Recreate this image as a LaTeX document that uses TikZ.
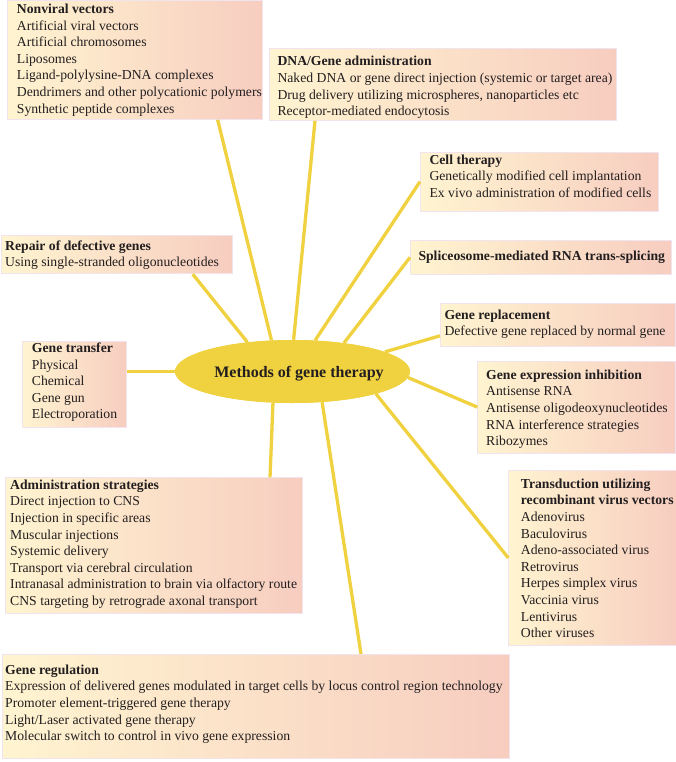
\documentclass[tikz,border=0pt]{standalone}
\usepackage{fontspec}
\setmainfont{Liberation Serif}
\usetikzlibrary{shapes.geometric,calc}
\definecolor{cream}{RGB}{255,244,208}
\definecolor{rose}{RGB}{247,205,192}
\definecolor{gold}{RGB}{240,209,64}
\definecolor{ink}{RGB}{35,31,32}
\definecolor{edgec}{RGB}{242,228,238}
\newcommand{\mylines}[1]{\begin{tabular}[t]{@{}l@{}}#1\end{tabular}}
\begin{document}
\begin{tikzpicture}[x=1pt,y=-1pt,
  box/.style={rectangle, draw=edgec, line width=0.8pt, left color=cream, right color=rose, inner sep=0pt, anchor=north west},
  txt/.style={inner sep=0pt, anchor=base west, text=ink, font=\fontsize{13.7}{16.6}\selectfont},
  conn/.style={draw=gold, line width=3.3pt},
  hub/.style={ellipse, fill=gold, draw=none, minimum width=235pt, minimum height=63pt, inner sep=0pt, text=ink, font=\fontsize{16}{19}\selectfont\bfseries}]
\useasboundingbox (0,0) rectangle (676,762);

% boxes
\node[box, minimum width=255pt, minimum height=118.5pt] (nv) at (6.7,0.5) {};
\node[box, minimum width=346.7pt, minimum height=71.7pt] (dna) at (269.3,48.3) {};
\node[box, minimum width=238pt, minimum height=59pt] (cell) at (420,151.7) {};
\node[box, minimum width=261pt, minimum height=34pt] (spl) at (410,240) {};
\node[box, minimum width=230.7pt, minimum height=38.3pt] (rep) at (1,235) {};
\node[box, minimum width=104pt, minimum height=86.6pt] (gtr) at (21.7,340.7) {};
\node[box, minimum width=235pt, minimum height=42.7pt] (grp) at (440,303.3) {};
\node[box, minimum width=197.7pt, minimum height=92pt] (inh) at (477.3,360.7) {};
\node[box, minimum width=167.2pt, minimum height=175pt] (trd) at (508.3,470) {};
\node[box, minimum width=296.7pt, minimum height=136pt] (adm) at (5,477.3) {};
\node[box, minimum width=507pt, minimum height=104.3pt] (reg) at (2,654) {};

% texts
\node[txt] (nvt) at (16.7,13.5) {\mylines{\textbf{Nonviral vectors}\\Artificial viral vectors\\Artificial chromosomes\\Liposomes\\Ligand-polylysine-DNA complexes\\Dendrimers and other polycationic polymers\\Synthetic peptide complexes}};
\node[txt] (dnat) at (277.3,65.9) {\mylines{\textbf{DNA/Gene administration}\\Naked DNA or gene direct injection (systemic or target area)\\Drug delivery utilizing microspheres, nanoparticles etc\\Receptor-mediated endocytosis}};
\node[txt] (cellt) at (429.3,164.2) {\mylines{\textbf{Cell therapy}\\Genetically modified cell implantation\\Ex vivo administration of modified cells}};
\node[txt] (splt) at (418.3,260.9) {\mylines{\textbf{Spliceosome-mediated RNA trans-splicing}}};
\node[txt] (rept) at (5,250.2) {\mylines{\textbf{Repair of defective genes}\\Using single-stranded oligonucleotides}};
\node[txt] (gtrt) at (31.7,352.5) {\mylines{\textbf{Gene transfer}\\Physical\\Chemical\\Gene gun\\Electroporation}};
\node[txt] (grpt) at (444.3,319.2) {\mylines{\textbf{Gene replacement}\\Defective gene replaced by normal gene}};
\node[txt] (inht) at (486,379.2) {\mylines{\textbf{Gene expression inhibition}\\Antisense RNA\\Antisense oligodeoxynucleotides\\RNA interference strategies\\Ribozymes}};
\node[txt] (trdt) at (520.7,488.2) {\mylines{\textbf{Transduction utilizing}\\\textbf{recombinant virus vectors}\\Adenovirus\\Baculovirus\\Adeno-associated virus\\Retrovirus\\Herpes simplex virus\\Vaccinia virus\\Lentivirus\\Other viruses}};
\node[txt] (admt) at (10,489.2) {\mylines{\textbf{Administration strategies}\\Direct injection to CNS\\Injection in specific areas\\Muscular injections\\Systemic delivery\\Transport via cerebral circulation\\Intranasal administration to brain via olfactory route\\CNS targeting by retrograde axonal transport}};
\node[txt] (regt) at (5,674.2) {\mylines{\textbf{Gene regulation}\\Expression of delivered genes modulated in target cells by locus control region technology\\Promoter element-triggered gene therapy\\Light/Laser activated gene therapy\\Molecular switch to control in vivo gene expression}};

% hub (placed first as coordinate reference, drawn last)
\node[hub] (el) at (292.5,371.5) {};

% connectors
\draw[conn] ($(nv.south west)+(211,0)$) -- (el.124.7);
\draw[conn] ($(dna.south west)+(45.7,0)$) -- (el.88.5);
\draw[conn] (cell.west) -- (el.54.5);
\draw[conn] (spl.west) -- (el.29.6);
\draw[conn] ($(rep.south west)+(191.7,0)$) -- (el.147.7);
\draw[conn] (el.west) -- (el.west -| gtr.east);
\draw[conn] ($(grp.south west)+(0,-11)$) -- (el.12.3);
\draw[conn] (inh.west) -- (el.-3.3);
\draw[conn] (trd.west) -- (el.-15.3);
\draw[conn] ($(adm.north west)+(265,0)$) -- (el.-122.2);
\draw[conn] ($(reg.north west)+(359,0)$) -- (el.-46.6);

\node[hub] (el2) at (el.center) {};
\node[text=ink, font=\fontsize{16}{19}\selectfont\bfseries] (title) at (299,373.3) {Methods of gene therapy};
\end{tikzpicture}
\end{document}
